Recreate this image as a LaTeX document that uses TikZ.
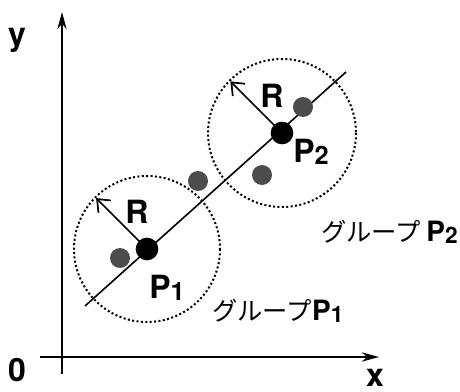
\documentclass[tikz,border=0pt]{standalone}
\usepackage{fontspec}
\setmainfont{TeX Gyre Heros}
\newfontfamily\jpfont{Noto Sans CJK JP}
\usetikzlibrary{arrows.meta, calc, positioning}

\newcommand{\lblsub}[3]{#1\raisebox{-0.1ex}{\fontsize{#3}{#3}\selectfont #2}}

\begin{document}
\begin{tikzpicture}[x=0.75pt,y=-0.75pt,font=\bfseries\fontsize{24}{26}\selectfont]
    \useasboundingbox (0,0) rectangle (460,392);
    \coordinate (O) at (62,357);
    \coordinate (Xs) at (40,357);
    \coordinate (Xe) at (379,357);
    \coordinate (Ys) at (62,374);
    \coordinate (Ye) at (62,12);

    % axes
    \draw[line width=1.1pt,-{Stealth[length=13pt,width=7pt]}] (Xs) -- (Xe);
    \draw[line width=1.1pt,-{Stealth[length=13pt,width=7pt]}] (Ys) -- (Ye);
    \node (ylab) at (17,40) {y};
    \node (olab) at (17,370) {0};
    \node[anchor=base,inner sep=0pt] (xlab) at (375,386) {x};

    % groups
    \coordinate (C1) at (147,249);
    \coordinate (C2) at (282,133);
    \draw[line width=1.5pt,dash pattern=on 1.5pt off 1.8pt] (C1) circle[radius=73];
    \draw[line width=1.5pt,dash pattern=on 1.5pt off 1.8pt] (C2) circle[radius=74];

    % fitted line
    \coordinate (La) at (85,306);
    \coordinate (Lb) at (346,72);
    \draw[line width=1.2pt] (La) -- (Lb);

    % members
    \node[circle,fill=black!70,inner sep=0pt,minimum size=15pt] (m1) at (120,258) {};
    \node[circle,fill=black!70,inner sep=0pt,minimum size=15pt] (m2) at (198,181) {};
    \node[circle,fill=black!70,inner sep=0pt,minimum size=15pt] (m3) at (303,107) {};
    \node[circle,fill=black!70,inner sep=0pt,minimum size=15pt] (m4) at (262,175) {};

    % centres
    \node[circle,fill=black,inner sep=0pt,minimum size=17pt] (P1) at (C1) {};
    \node[circle,fill=black,inner sep=0pt,minimum size=17pt] (P2) at (C2) {};

    % radii
    \coordinate (R1) at ($(C1)+(225:72)$);
    \coordinate (R2) at ($(C2)+(225:73)$);
    \draw[line width=1.3pt,-{Straight Barb[length=8pt,width=13pt,line width=1.3pt]}] (P1.center) -- (R1);
    \draw[line width=1.3pt,-{Straight Barb[length=8pt,width=13pt,line width=1.3pt]}] (P2.center) -- (R2);
    \node (r1lab) at (137,212) {R};
    \node (r2lab) at (272,96) {R};

    \node (p1lab) at (167,288) {\lblsub{P}{1}{19}};
    \node (p2lab) at (311,152) {\lblsub{P}{2}{19}};

    \node[anchor=west,inner sep=0pt] (g2lab) at (321,232)
        {{\jpfont\mdseries\fontsize{19}{22}\selectfont グループ}\,{\fontsize{21}{22}\selectfont\lblsub{P}{2}{17}}};
    \node[anchor=west,inner sep=0pt] (g1lab) at (212,311)
        {{\jpfont\mdseries\fontsize{19}{22}\selectfont グループ}{\fontsize{21}{22}\selectfont\lblsub{P}{1}{17}}};
\end{tikzpicture}
\end{document}
